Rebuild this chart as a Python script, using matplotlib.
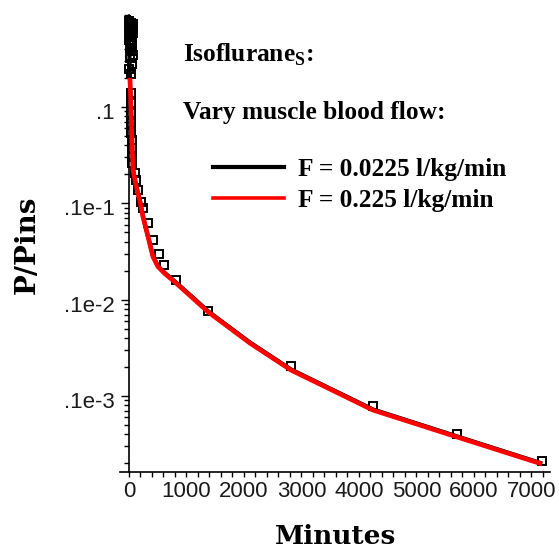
import matplotlib
matplotlib.use("Agg")
import matplotlib.pyplot as plt
import matplotlib.transforms as mtransforms
from matplotlib.ticker import FixedLocator, FixedFormatter, MultipleLocator, LogLocator, NullFormatter

plt.rcParams["mathtext.fontset"] = "custom"
plt.rcParams["mathtext.rm"] = "Liberation Serif"
plt.rcParams["mathtext.bf"] = "Liberation Serif:bold"

# ---------------- data ----------------
obs_t = [0, 35, 70, 15, 55, 5, 40, 65, 20, 50, 0, 30, 60, 10, 45, 70, 25, 55, 5, 40,
         30, 33, 36, 39, 42, 45, 48, 50, 52, 99, 127, 157, 203, 243,
         330, 417, 517, 609, 812, 1374, 2817, 4243, 5704, 7183]
obs_p = [0.78, 0.75, 0.72, 0.69, 0.66, 0.63, 0.61, 0.58, 0.56, 0.53, 0.50, 0.47,
         0.44, 0.41, 0.38, 0.35, 0.32, 0.28, 0.25, 0.22,
         0.140, 0.110, 0.0867, 0.0683, 0.0537, 0.0454, 0.0375, 0.0303, 0.0262,
         0.0207, 0.0175, 0.0137, 0.0104, 0.00893, 0.00624, 0.00416, 0.00297,
         0.00229, 0.00160, 0.000767, 0.000204, 7.85e-5, 4.02e-5, 2.11e-5]

t_low = [0, 3, 6, 10, 17, 35, 52, 70, 127, 186, 243, 301, 360, 417, 504,
         621, 795, 1084, 1374, 2104, 2817, 4243, 5699, 7148]
p_low = [0.9, 0.6, 0.4, 0.28, 0.193, 0.094, 0.0459, 0.0224, 0.0150, 0.0109,
         0.00735, 0.00535, 0.00389, 0.00283, 0.00223, 0.00190, 0.00155, 0.00109,
         0.000760, 0.000360, 0.000189, 7.27e-5, 3.83e-5, 2.03e-5]

t_high = [17, 35, 52, 70, 127, 186, 243, 301, 360, 417, 504, 621, 795,
          1084, 1374, 2104, 2817, 4243, 5699, 7148]
p_high = [0.19, 0.093, 0.0454, 0.0222, 0.01486, 0.0108, 0.00726, 0.00528,
          0.00384, 0.00279, 0.0022, 0.00187, 0.00153, 0.00107, 0.000748,
          0.000354, 0.000186, 7.15e-5, 3.77e-5, 2.0e-5]

x_ticks = [0, 1000, 2000, 3000, 4000, 5000, 6000, 7000]
x_tick_labels = ["0", "1000", "2000", "3000", "4000", "5000", "6000", "7000"]
y_ticks = [0.1, 0.01, 0.001, 0.0001]
y_tick_labels = [".1", ".1e-1", ".1e-2", ".1e-3"]

label_low = "F = 0.0225 l/kg/min"
label_high = "F = 0.225 l/kg/min"

# ---------------- figure ----------------
W, H = 559, 550
fig = plt.figure(figsize=(W / 100, H / 100), dpi=100)
ax = fig.add_axes([120 / W, 1 - 472 / H, 430 / W, 457 / H])
ax.set_yscale("log")

ax.plot(obs_t, obs_p, ls="none", marker="s", ms=5.2, mew=1.4,
        mfc="none", mec="black", zorder=3)
l1, = ax.plot(t_low, p_low, color="black", lw=3.0, zorder=4, label=label_low)
l2, = ax.plot(t_high, p_high, color="red", lw=3.3, zorder=5, label=label_high)

ax.set_xlim(-156.5, 7322)
ax.set_ylim(1.63e-5, 0.901)

for s in ("top", "right"):
    ax.spines[s].set_visible(False)
ax.spines["left"].set_position(("data", 0))
ax.spines["left"].set_linewidth(1.2)
ax.spines["bottom"].set_linewidth(1.2)

ax.xaxis.set_major_locator(FixedLocator(x_ticks))
ax.xaxis.set_major_formatter(FixedFormatter(x_tick_labels))
ax.xaxis.set_minor_locator(MultipleLocator(200))
ax.yaxis.set_major_locator(FixedLocator(y_ticks))
ax.yaxis.set_major_formatter(FixedFormatter(y_tick_labels))
ax.yaxis.set_minor_locator(LogLocator(base=10, subs=range(2, 10), numticks=30))
ax.yaxis.set_minor_formatter(NullFormatter())

ax.tick_params(axis="x", which="both", direction="out", length=3.3, width=1.0,
               pad=3, labelsize=16, labelcolor="#1a1a1a")
ax.tick_params(axis="y", which="major", direction="out", length=6, width=1.0,
               pad=4, labelsize=16, labelcolor="#1a1a1a")
ax.tick_params(axis="y", which="minor", direction="out", length=3.5, width=1.0)
for lab in ax.get_xticklabels() + ax.get_yticklabels():
    lab.set_fontfamily("Liberation Sans")
offset = mtransforms.ScaledTranslation(0, -4 / 100, fig.dpi_scale_trans)
for lab in ax.get_yticklabels():
    lab.set_transform(lab.get_transform() + offset)

ax.set_xlabel("Minutes", fontfamily="DejaVu Serif", fontweight="bold",
              fontsize=19, va="center")
ax.xaxis.set_label_coords(0.502, -0.142)
ax.set_ylabel("P/Pins", fontfamily="DejaVu Serif", fontweight="bold",
              fontsize=20, va="center")
ax.yaxis.set_label_coords(-0.216, 0.497)

serif_bold = dict(fontfamily="Liberation Serif", fontweight="bold", fontsize=18.3)
fig.text(183 / W, 1 - 62 / H, r"Isoflurane$_{\mathbf{S}}$:", va="baseline", **serif_bold)
fig.text(183 / W, 1 - 119 / H, "Vary muscle blood flow:", va="baseline", **serif_bold)

leg = ax.legend(handles=[l1, l2], loc="upper left",
                bbox_to_anchor=(213 / W, 1 - 158 / H), bbox_transform=fig.transFigure,
                frameon=False,
                prop={"family": "Liberation Serif", "weight": "bold", "size": 18.3},
                handlelength=2.78, handletextpad=0.58, labelspacing=0.33,
                borderpad=0, borderaxespad=0)
leg.get_lines()[1].set_linewidth(2.6)

fig.savefig("out.png", dpi=100)
